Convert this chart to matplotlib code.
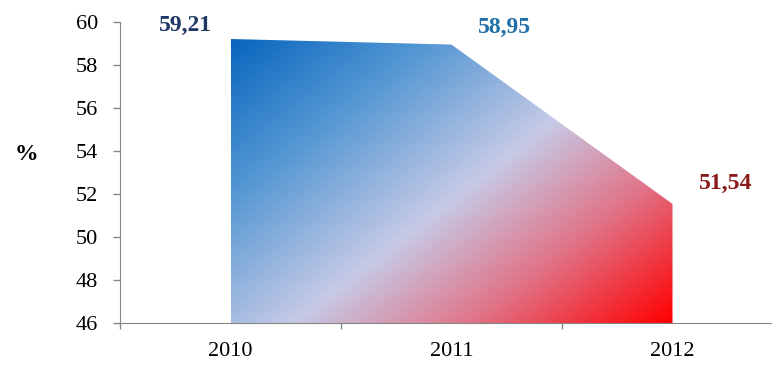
import matplotlib
matplotlib.use('Agg')
import matplotlib.pyplot as plt
import numpy as np
from matplotlib.colors import LinearSegmentedColormap

# data
years = ['2010', '2011', '2012']
values = [59.21, 58.95, 51.54]
value_labels = ['59,21', '58,95', '51,54']
label_colors = ['#1F3864', '#1F6FA8', '#8B1A1A']
y_ticks = [46, 48, 50, 52, 54, 56, 58, 60]

plt.rcParams['font.family'] = ['Liberation Serif', 'DejaVu Serif']

fig = plt.figure(figsize=(7.72, 3.67), dpi=100)
ax = fig.add_axes([120 / 772, 44 / 367, 663 / 772, 301 / 367])

x = np.arange(len(years))
y_min = y_ticks[0]

# area shape (invisible) used as clip path for the gradient
poly = ax.fill_between(x, values, y_min, facecolor='none', edgecolor='none')

# diagonal gradient: blue top-left -> lavender -> red bottom-right
cmap = LinearSegmentedColormap.from_list(
    'bluered',
    [(0.0, '#0866BE'), (0.25, '#5497D3'), (0.53, '#C6CAE6'),
     (0.75, '#E07488'), (1.0, '#FF0000')])
u = np.linspace(0, 1, 500)[None, :]
v = np.linspace(0, 1, 400)[:, None]
t = 0.546 * u + 0.454 * v
im = ax.imshow(t, cmap=cmap, vmin=0, vmax=1, aspect='auto', origin='upper',
               extent=[x[0], x[-1], y_min, max(values)], interpolation='bilinear',
               zorder=1)
im.set_clip_path(poly.get_paths()[0], transform=ax.transData)

# value labels
offsets = [(-45, 14), (53, 17), (53, 20)]
for xi, val, lab, col, off in zip(x, values, value_labels, label_colors, offsets):
    ax.annotate(lab, (xi, val), xytext=(off[0] * 0.72, off[1] * 0.72),
                textcoords='offset points', ha='center', va='center',
                fontsize=17, fontweight='bold', color=col)

ax.set_xlim(-0.5, 2.5)
ax.set_ylim(y_min, y_ticks[-1])
ax.set_yticks(y_ticks)
ax.set_xticks(x)
ax.set_xticklabels(years)
ax.set_xticks(np.arange(len(years) + 1) - 0.5, minor=True)

ax.tick_params(axis='x', which='major', length=0, pad=14, labelsize=16)
ax.tick_params(axis='x', which='minor', length=4, color='#868686', width=1)
ax.tick_params(axis='y', length=5, color='#868686', width=1, pad=11, labelsize=16)

for side in ['top', 'right']:
    ax.spines[side].set_visible(False)
for side in ['left', 'bottom']:
    ax.spines[side].set_color('#868686')
    ax.spines[side].set_zorder(3)

fig.text(26 / 772, 1 - 155 / 367, '%', fontsize=17, fontweight='bold',
         ha='center', va='center')

fig.savefig('out.png', dpi=100)
